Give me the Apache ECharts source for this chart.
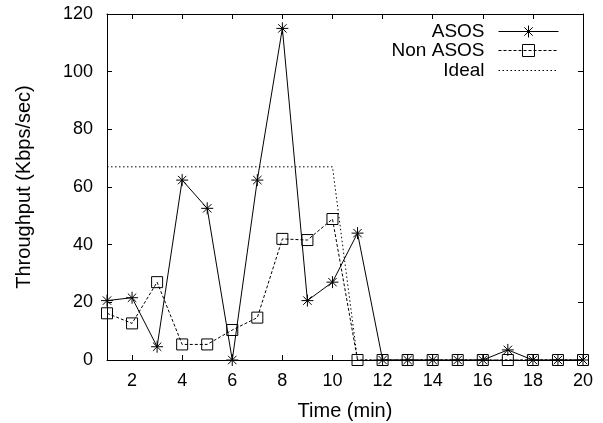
<!DOCTYPE html>
<html><head><meta charset="utf-8">
<script src="https://cdn.jsdelivr.net/npm/echarts@6/dist/echarts.min.js"></script>
<style>html,body{margin:0;padding:0;background:#fff}#c{width:603px;height:423px}</style>
</head><body><div id="c"></div>
<script>
const times = [1,2,3,4,5,6,7,8,9,10,11,12,13,14,15,16,17,18,19,20];
const asos = [20.6,21.6,4.6,62.4,52.6,0,62.4,115,20.6,27,44,0,0,0,0,0,3.5,0,0,0];
const nonAsos = [16.2,12.7,27,5.4,5.4,10.4,14.7,42,41.6,48.9,0,0,0,0,0,0,0,0,0,0];
const ideal = [67,67,67,67,67,67,67,67,67,67,0,0,0,0,0,0,0,0,0,0];
const xTicks = [2,4,6,8,10,12,14,16,18,20];
const seriesNames = ['ASOS','Non ASOS','Ideal'];

const font = 'Liberation Sans, Arial, Helvetica, sans-serif';
const fs = 18;
const fsName = 20;
const fsLegend = 19;
const pair = a => times.map((t,i)=>[t,a[i]]);
const star = 'path://M5,0L5,10M0,5L10,5M1.5,1.5L8.5,8.5M8.5,1.5L1.5,8.5';
const square = 'path://M0,0L10,0L10,10L0,10Z';

const xBase = {type:'value',min:1,max:20,
  axisLine:{show:true,onZero:false,lineStyle:{color:'#000',width:1}},
  splitLine:{show:false},
  axisTick:{show:true,inside:true,length:5,customValues:xTicks,lineStyle:{color:'#000'}},
};
const yBase = {type:'value',min:0,max:120,interval:20,
  axisLine:{show:true,onZero:false,lineStyle:{color:'#000',width:1}},
  splitLine:{show:false},
  axisTick:{show:true,inside:true,length:5,lineStyle:{color:'#000'}},
};
const chart = echarts.init(document.getElementById('c'));
const legendRows = [22,41,61];
chart.setOption({
  animation:false,
  backgroundColor:'#fff',
  grid:{left:107,right:20,top:14,bottom:63,outerBoundsMode:'none',containLabel:false},
  xAxis:[
    Object.assign({},xBase,{position:'bottom',name:'Time (min)',nameLocation:'middle',nameGap:41,
      nameTextStyle:{fontFamily:font,fontSize:fsName,color:'#000'},
      axisLabel:{customValues:xTicks,fontFamily:font,fontSize:fs,color:'#000',margin:12}}),
    Object.assign({},xBase,{position:'top',axisLabel:{show:false}})
  ],
  yAxis:[
    Object.assign({},yBase,{position:'left',name:'Throughput (Kbps/sec)',nameLocation:'middle',nameGap:73,
      nameTextStyle:{fontFamily:font,fontSize:fsName,color:'#000'},
      axisLabel:{fontFamily:font,fontSize:fs,color:'#000',margin:14}}),
    Object.assign({},yBase,{position:'right',axisLabel:{show:false}})
  ],
  legend: seriesNames.map((n,i)=>({
    data:[ n==='Ideal' ? {name:n,itemStyle:{color:'rgba(0,0,0,0)',borderColor:'rgba(0,0,0,0)',borderWidth:0}} : n ],
    right:44, top:legendRows[i], align:'right', orient:'vertical',
    itemWidth:60, itemHeight:15, itemGap:0, padding:0,
    lineStyle:{width:1},
    itemStyle: n==='Ideal' ? undefined : {borderWidth:1},
    textStyle:{fontFamily:font,fontSize:fsLegend,color:'#000',padding:[0,9,0,0]}, selectedMode:false
  })),
  series:[
    {name:'Ideal',type:'line',data:pair(ideal),symbol:'none',
      lineStyle:{color:'#000',width:1,type:[1.5,2.5]},itemStyle:{color:'#000'},z:1},
    {name:'Non ASOS',type:'line',data:pair(nonAsos),symbol:square,symbolSize:11,
      lineStyle:{color:'#000',width:1,type:[3,2]},
      itemStyle:{color:'rgba(0,0,0,0)',borderColor:'#000',borderWidth:1},z:2},
    {name:'ASOS',type:'line',data:pair(asos),symbol:star,symbolSize:12,
      lineStyle:{color:'#000',width:1},
      itemStyle:{color:'rgba(0,0,0,0)',borderColor:'#000',borderWidth:1},z:3}
  ]
});
</script></body></html>
